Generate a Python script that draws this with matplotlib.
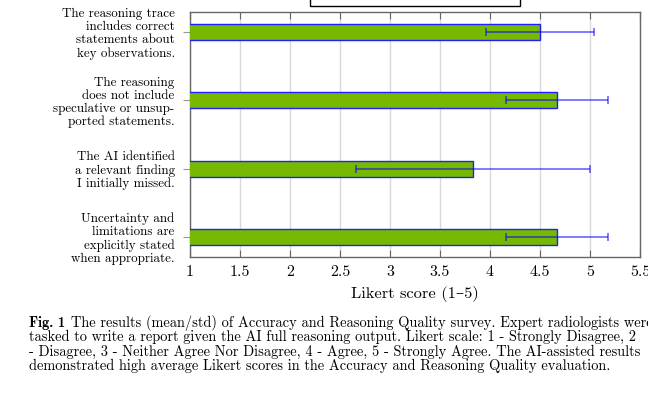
import numpy as np
import matplotlib
matplotlib.use("Agg")
import matplotlib.pyplot as plt
from matplotlib.patches import Rectangle

plt.rcParams['font.family'] = ['cmr10', 'DejaVu Serif']
plt.rcParams['axes.unicode_minus'] = False
plt.rcParams['axes.formatter.use_mathtext'] = True

# survey statements (top to bottom) and mean/std Likert scores
statements = [
    "The reasoning trace\nincludes correct\nstatements about\nkey observations.",
    "The reasoning\ndoes not include\nspeculative or unsup-\nported statements.",
    "The AI identified\na relevant finding\nI initially missed.",
    "Uncertainty and\nlimitations are\nexplicitly stated\nwhen appropriate.",
]
means = [4.5, 4.67, 3.83, 4.67]
stds = [0.54, 0.51, 1.17, 0.51]
xticks = [1, 1.5, 2, 2.5, 3, 3.5, 4, 4.5, 5, 5.5]

caption_lines = [
    "The results (mean/std) of Accuracy and Reasoning Quality survey. Expert radiologists were",
    "tasked to write a report given the AI full reasoning output. Likert scale: 1 - Strongly Disagree, 2",
    "- Disagree, 3 - Neither Agree Nor Disagree, 4 - Agree, 5 - Strongly Agree. The AI-assisted results",
    "demonstrated high average Likert scores in the Accuracy and Reasoning Quality evaluation.",
]

fig = plt.figure(figsize=(6.48, 3.97), dpi=100)
ax = fig.add_axes([190/648, 1 - 257/397, 450/648, 245/397])

y = np.arange(len(statements))
ax.barh(y, means, height=0.234, color='#76b900', edgecolor='#2020ff', linewidth=1.0, zorder=3)
ax.errorbar(means, y, xerr=stds, fmt='none', ecolor='#0000ff', alpha=0.6,
            elinewidth=1.2, capsize=3, capthick=1.2, zorder=4)

ax.set_xlim(1, 5.5)
ax.set_ylim(3.293, -0.293)
ax.set_xticks(xticks)
ax.set_xticklabels([("%g" % v) for v in xticks], fontsize=11.5)
ax.set_yticks(y)
ax.set_yticklabels(statements, fontsize=9.4, linespacing=1.1)
ax.set_xlabel("Likert score (1–5)", fontsize=11.8, labelpad=5)

ax.grid(axis='x', color='#d9d9d9', linewidth=1.0, zorder=0)
for s in ax.spines.values():
    s.set_color('#666666')
    s.set_linewidth(1.0)
ax.tick_params(axis='x', direction='in', top=True, length=5, color='#666666', pad=6)
ax.tick_params(axis='y', direction='out', length=5, color='#999999', pad=6)

# legend box cut at the top of the crop
fig.patches.append(Rectangle((310/648, 1 - 6/397), 210/648, 20/397,
                             transform=fig.transFigure, fill=False,
                             edgecolor='black', linewidth=1.0))

fig.text(29/648, 1 - 327/397, "Fig. 1", fontsize=10.4, family=['cmb10', 'DejaVu Serif'],
         va='baseline')
for i, line in enumerate(caption_lines):
    x0 = 71/648 if i == 0 else 29/648
    fig.text(x0, 1 - (327 + i*14.3)/397, line, fontsize=10.4, va='baseline')

fig.savefig("out.png", dpi=100)
